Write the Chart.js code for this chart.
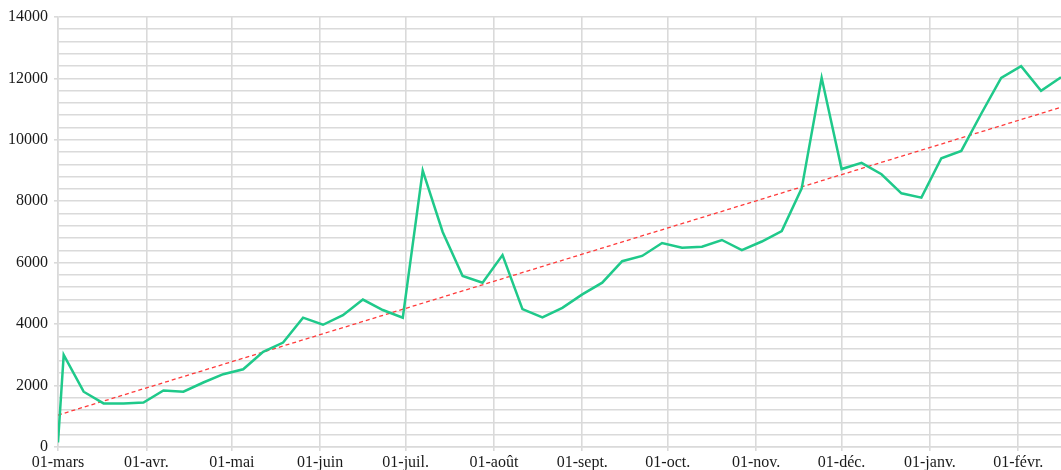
<!DOCTYPE html>
<html lang="fr">
<head>
<meta charset="UTF-8">
<title>Graphique</title>
<script src="https://cdn.jsdelivr.net/npm/chart.js@4.4.0/dist/chart.umd.min.js"></script>
<style>
  html, body { margin: 0; padding: 0; background: #fff; }
  #wrap { width: 1061px; height: 470px; }
</style>
</head>
<body>
<div id="wrap"><canvas id="chart"></canvas></div>
<script>
// dates of each measure and the value read on the chart
const dates = [
  '2021-03-01','2021-03-03','2021-03-10','2021-03-17','2021-03-24','2021-03-31',
  '2021-04-07','2021-04-14','2021-04-21','2021-04-28','2021-05-05','2021-05-12',
  '2021-05-19','2021-05-26','2021-06-02','2021-06-09','2021-06-16','2021-06-23',
  '2021-06-30','2021-07-07','2021-07-14','2021-07-21','2021-07-28','2021-08-04',
  '2021-08-11','2021-08-18','2021-08-25','2021-09-01','2021-09-08','2021-09-15',
  '2021-09-22','2021-09-29','2021-10-06','2021-10-13','2021-10-20','2021-10-27',
  '2021-11-03','2021-11-10','2021-11-17','2021-11-24','2021-12-01','2021-12-08',
  '2021-12-15','2021-12-22','2021-12-29','2022-01-05','2022-01-12','2022-01-19',
  '2022-01-26','2022-02-02','2022-02-09','2022-02-16'
];
const values = [
  150, 3000, 1800, 1420, 1420, 1450,
  1840, 1800, 2100, 2370, 2530, 3100,
  3400, 4210, 3980, 4290, 4800, 4460,
  4210, 9000, 7000, 5570, 5350, 6250,
  4490, 4220, 4530, 4970, 5350, 6050,
  6220, 6640, 6490, 6520, 6740, 6410,
  6690, 7030, 8420, 12020, 9050, 9250,
  8880, 8260, 8120, 9400, 9640, 10850,
  12020, 12400, 11600, 12040
];
// trend line: value at first and last date
const trendValues = [1040, 11060];

// month ticks on the x axis
const monthDates = [
  '2021-03-01','2021-04-01','2021-05-01','2021-06-01','2021-07-01','2021-08-01',
  '2021-09-01','2021-10-01','2021-11-01','2021-12-01','2022-01-01','2022-02-01'
];
const monthLabels = [
  '01-mars','01-avr.','01-mai','01-juin','01-juil.','01-août',
  '01-sept.','01-oct.','01-nov.','01-déc.','01-janv.','01-févr.'
];

const yMax = 14000;
const yMinorStep = 400;
const yMajorStep = 2000;

const t0 = Date.parse(dates[0]);
const dayOf = d => Math.round((Date.parse(d) - t0) / 86400000);

const days = dates.map(dayOf);
const monthDays = monthDates.map(dayOf);
const lastDay = days[days.length - 1];

const gridColor = '#dadada';
const font = { family: '"Liberation Serif", "DejaVu Serif", serif', size: 16 };

const ctx = document.getElementById('chart').getContext('2d');
new Chart(ctx, {
  type: 'line',
  data: {
    datasets: [
      {
        data: days.map((d, i) => ({ x: d, y: values[i] })),
        borderColor: '#1fc98a',
        borderWidth: 2.5,
        pointRadius: 0,
        tension: 0,
        fill: false
      },
      {
        data: [{ x: days[0], y: trendValues[0] }, { x: lastDay, y: trendValues[1] }],
        borderColor: '#ff3b3b',
        borderWidth: 1.3,
        borderDash: [4, 3],
        pointRadius: 0,
        fill: false
      }
    ]
  },
  options: {
    responsive: true,
    maintainAspectRatio: false,
    animation: false,
    layout: { padding: { top: 17, right: 0, left: 0, bottom: 0 } },
    plugins: { legend: { display: false }, tooltip: { enabled: false } },
    scales: {
      x: {
        type: 'linear',
        min: 0,
        max: lastDay,
        afterBuildTicks: scale => {
          scale.ticks = monthDays.map(v => ({ value: v }));
        },
        afterFit: scale => { scale.height = 23; },
        ticks: {
          autoSkip: false,
          maxRotation: 0,
          color: '#1a1a1a',
          font: font,
          padding: 2,
          callback: v => monthLabels[monthDays.indexOf(v)]
        },
        grid: { color: gridColor, lineWidth: 1.6, tickLength: 4 },
        border: { color: gridColor, width: 1.6 }
      },
      y: {
        min: 0,
        max: yMax,
        afterFit: scale => { scale.width = 58; },
        ticks: {
          stepSize: yMinorStep,
          autoSkip: false,
          color: '#1a1a1a',
          font: font,
          padding: 6,
          callback: v => (v % yMajorStep === 0 ? String(v) : '')
        },
        grid: {
          color: gridColor,
          lineWidth: 1.6,
          tickLength: 4,
          tickColor: c => (c.tick && c.tick.value % yMajorStep === 0 ? gridColor : 'rgba(0,0,0,0)')
        },
        border: { color: gridColor, width: 1.6 }
      }
    }
  }
});
</script>
</body>
</html>
